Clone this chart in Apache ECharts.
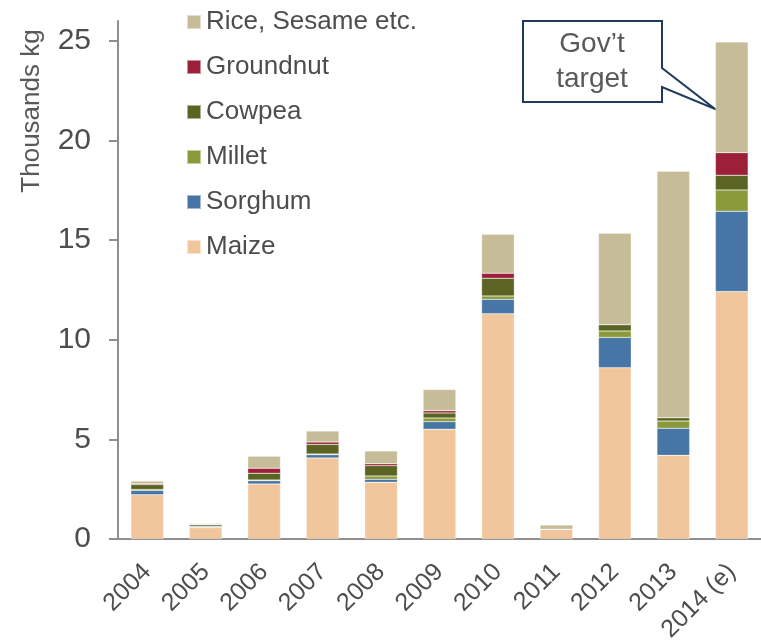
<!DOCTYPE html>
<html>

<head>
  <meta charset="UTF-8">
  <title>Crop production</title>
  <script src="https://cdn.jsdelivr.net/npm/echarts@6/dist/echarts.min.js"></script>
  <style>
    body {
      margin: 0;
      padding: 0;
      background: #fff;
    }

    #chart {
      width: 761px;
      height: 641px;
    }
  </style>
</head>

<body>
  <div id="chart"></div>

  <script>
    // values in thousands kg
    var years = ['2004', '2005', '2006', '2007', '2008', '2009', '2010', '2011', '2012', '2013', '2014 (e)'];
    var maize = [2.22, 0.57, 2.76, 4.07, 2.85, 5.51, 11.31, 0.49, 8.60, 4.20, 12.42];
    var sorghum = [0.22, 0.03, 0.17, 0.16, 0.15, 0.38, 0.72, 0, 1.52, 1.36, 4.03];
    var millet = [0.05, 0.03, 0.03, 0.04, 0.16, 0.18, 0.17, 0, 0.32, 0.36, 1.07];
    var cowpea = [0.24, 0.08, 0.34, 0.48, 0.52, 0.26, 0.89, 0, 0.32, 0.17, 0.74];
    var groundnut = [0.05, 0.02, 0.25, 0.12, 0.10, 0.11, 0.25, 0, 0, 0, 1.13];
    var rice = [0.13, 0.05, 0.60, 0.55, 0.64, 1.06, 1.96, 0.21, 4.59, 12.37, 5.56];
    var yTicks = [0, 5, 10, 15, 20, 25];

    var font = '"Liberation Sans", Arial, sans-serif';
    var textColor = '#4d4d4d';
    var axisColor = '#8f8f8f';

    var chart = echarts.init(document.getElementById('chart'), null, { renderer: 'canvas' });

    function bar(name, data, color) {
      return {
        name: name,
        type: 'bar',
        stack: 'total',
        barWidth: '56%',
        data: data,
        itemStyle: { color: color, borderColor: 'rgba(255,255,255,0.5)', borderWidth: 0.5 },
        emphasis: { disabled: true }
      };
    }

    chart.setOption({
      animation: false,
      textStyle: { fontFamily: font },
      grid: { left: 118, right: 0, top: 21, bottom: 102, outerBoundsMode: 'none', containLabel: false },
      legend: {
        orient: 'vertical',
        left: 186,
        top: 9,
        padding: 0,
        itemWidth: 14,
        itemHeight: 14,
        itemGap: 19,
        icon: 'rect',
        data: ['Rice, Sesame etc.', 'Groundnut', 'Cowpea', 'Millet', 'Sorghum', 'Maize'],
        textStyle: { fontSize: 26, color: textColor, fontFamily: font }
      },
      xAxis: {
        type: 'category',
        data: years,
        axisLine: { lineStyle: { color: axisColor, width: 2 } },
        axisTick: { length: 8, lineStyle: { color: axisColor, width: 2 } },
        axisLabel: { rotate: 45, margin: 29, fontSize: 25, color: textColor, fontFamily: font, interval: 0 }
      },
      yAxis: {
        type: 'value',
        min: 0,
        max: 26,
        interval: 5,
        splitLine: { show: false },
        axisLine: { show: true, lineStyle: { color: axisColor, width: 2 } },
        axisTick: { show: true, length: 9, customValues: yTicks, lineStyle: { color: axisColor, width: 2 } },
        axisLabel: { margin: 27, fontSize: 30, color: textColor, fontFamily: font, customValues: yTicks }
      },
      series: [
        bar('Maize', maize, '#F2C69D'),
        bar('Sorghum', sorghum, '#4675A6'),
        bar('Millet', millet, '#8A9A3B'),
        bar('Cowpea', cowpea, '#5B6423'),
        bar('Groundnut', groundnut, '#9C2039'),
        bar('Rice, Sesame etc.', rice, '#C6BD98')
      ],
      graphic: [
        {
          type: 'text',
          x: 32,
          y: 111,
          rotation: Math.PI / 2,
          style: {
            text: 'Thousands kg',
            fontSize: 26,
            fontFamily: font,
            fill: '#595959',
            align: 'center',
            verticalAlign: 'middle'
          }
        },
        {
          // callout box for the target year
          type: 'polygon',
          shape: {
            points: [[523, 21], [662, 21], [662, 68], [715, 109], [662, 87], [662, 102], [523, 102]]
          },
          style: { fill: '#fff', stroke: '#1F3A5C', lineWidth: 2 }
        },
        {
          type: 'text',
          x: 592,
          y: 62,
          style: {
            text: 'Gov\u2019t\ntarget',
            fontSize: 28,
            lineHeight: 35,
            fontFamily: font,
            fill: '#595959',
            align: 'center',
            verticalAlign: 'middle'
          }
        }
      ]
    });
  </script>
</body>

</html>
